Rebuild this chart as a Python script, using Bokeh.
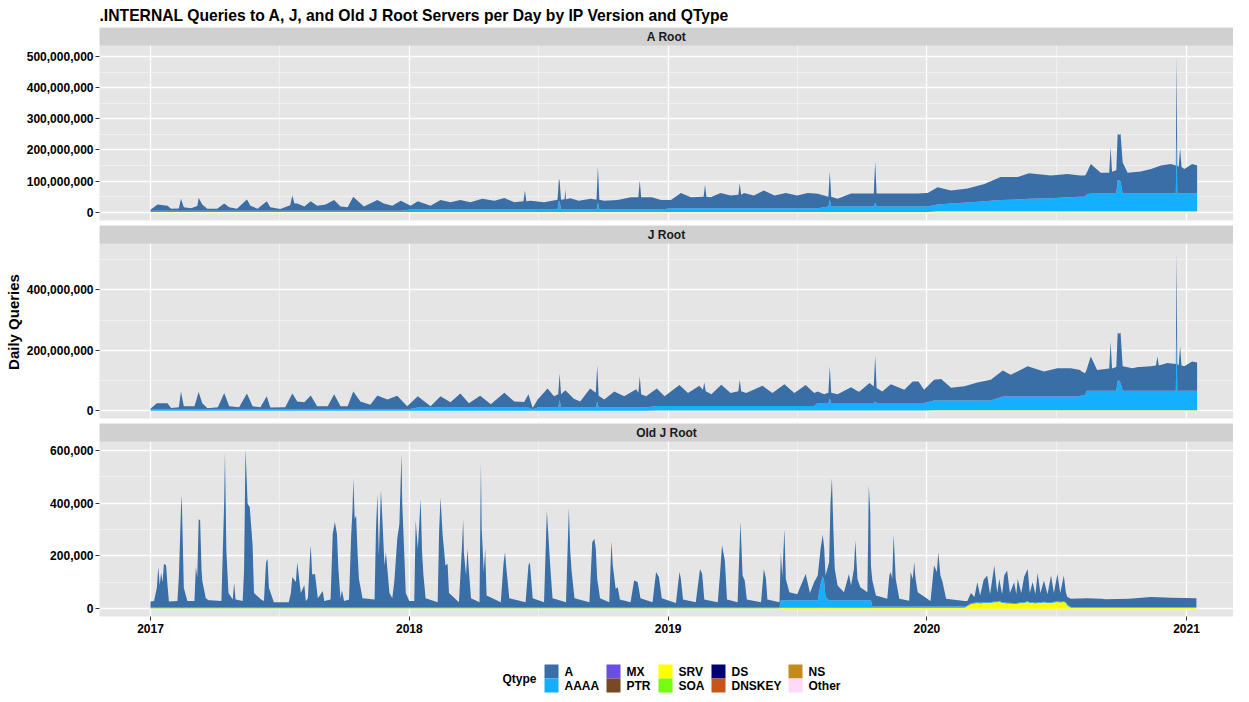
import pandas as pd
from bokeh.plotting import figure
from bokeh.models import (Range1d, FixedTicker, NumeralTickFormatter, DatetimeTickFormatter,
                          BoxAnnotation, Label, ColumnDataSource)
from bokeh.core.properties import value
from bokeh.layouts import column
from bokeh.embed import file_html
from bokeh.resources import INLINE

FONT = "Liberation Sans"
START = "2017-01-01"
nan = float("nan")

TITLE = ".INTERNAL Queries to A, J, and Old J Root Servers per Day by IP Version and QType"
legend_title = "Qtype"
qtypes = ["A", "AAAA", "MX", "PTR", "SRV", "SOA", "DS", "DNSKEY", "NS", "Other"]
qcolors = ["#3A6EA6", "#15AFFF", "#6A4DE3", "#7A4824", "#FFFF00", "#74FF10",
           "#00006E", "#C8561A", "#C38A1C", "#FFD9F7"]
year_ticks = ["2017-01-01", "2018-01-01", "2019-01-01", "2020-01-01", "2021-01-01"]
year_minor = ["2017-07-02", "2018-07-02", "2019-07-02", "2020-07-02"]

# ---------------- A Root (millions of queries / day) ----------------
a_day = [0, 10, 24, 29, 40, 43, 47, 57, 66, 68, 73, 80, 82, 83, 84, 94, 104, 111, 122, 136,
         141, 151, 164, 169, 183, 197, 200, 203, 207, 217, 226, 235, 247, 259, 268, 278, 286, 292, 301, 320,
         329, 341, 353, 367, 377, 395, 409, 423, 437, 451, 468, 485, 499, 513, 526, 528, 530, 536, 555, 574,
         576, 577, 579, 584, 585, 586, 592, 604, 621, 629, 631, 633, 640, 659, 677, 688, 690, 692, 707, 720,
         734, 748, 762, 780, 782, 784, 790, 804, 818, 829, 831, 833, 837, 851, 865, 880, 896, 912, 927, 941,
         956, 958, 960, 969, 988, 998, 999, 1000, 1007, 1020, 1022, 1024, 1035, 1058, 1082, 1096, 1110, 1129, 1152, 1176,
         1199, 1223, 1239, 1270, 1293, 1311, 1312, 1313, 1318, 1319, 1320, 1326, 1340, 1352, 1354, 1356, 1362, 1364, 1366, 1368,
         1371, 1378, 1393, 1394, 1395, 1411, 1425, 1439, 1446, 1447, 1448, 1450, 1452, 1454, 1458, 1469, 1476]
a_A = [3.5, 20.5, 16.5, 6.5, 7.5, 38.5, 11.5, 8.5, 15.5, 41.5, 20.5, 6.5, 6.5, nan, 6.5, 6.5, 23.5, 11.5, 6.5, 36.5,
       16.5, 6.5, 30.5, 11.5, 5.5, 17.5, 49.5, 23.5, 23.5, 13.5, 30.5, 16.5, 20.5, 34.5, 13.5, 11.5, 45.5, 32.5, 13.5, 34.5,
       23.5, 16.5, 32.5, 12.5, 26.5, 12.5, 30.5, 23.5, 30.5, 23.5, 34.5, 28.5, 37.5, 23.5, 26.5, 61.5, 26.5, 28.5, 23.5, 31.5,
       71.5, 64.5, 31.5, 33.5, 64.5, 33.5, 36.5, 28.5, 34.5, 31.5, 116.5, 31.5, 28.5, 30.5, 39.5, 39.5, 93.5, 39.5, 39.5, 30.5,
       26, 49, 35, 37, 75, 37, 35, 49, 41, 43, 80, 43, 49, 41, 57, 41, 49, 41, 49, 46,
       32, 90, 32, 25, 42, 42, nan, 42, 42, 42, 133, 42, 42, 42, 42, 44, 55, 42, 45, 56,
       74, 72, 82, 73, 75, 68, nan, 68, 68, nan, 67, 95, 67, 67, 149, 70, 75, 149, 145, 154,
       100, 67, 70, nan, 70, 79, 90, 95, 90, 266, 90, 85, 146, 85, 79, 95, 90]
a_AAAA = [4, 4, 4, 4, 4, 4, 4, 4, 4, 4, 4, 4, 4, nan, 4, 4, 4, 4, 4, 4,
          4, 4, 4, 4, 4, 4, 4, 4, 4, 4, 4, 4, 4, 4, 4, 4, 4, 4, 4, 4,
          4, 4, 4, 8, 8, 8, 8, 8, 8, 8, 8, 8, 8, 8, 8, 8, 8, 8, 8, 8,
          35, 35, 8, 8, 8, 8, 8, 8, 8, 8, 30, 8, 8, 8, 8, 8, 8, 8, 8, 8,
          12, 12, 12, 12, 12, 12, 12, 12, 12, 12, 12, 12, 12, 12, 12, 12, 12, 12, 12, 12,
          17, 40, 17, 17, 17, 17, nan, 17, 17, 17, 30, 17, 17, 17, 17, 17, 22, 25, 28, 32,
          36, 38, 40, 42, 45, 47, nan, 47, 47, nan, 55, 57, 57, 57, 57, 57, 57, 100, 100, 95,
          57, 57, 57, nan, 57, 57, 57, 57, 57, 240, 57, 57, 57, 57, 57, 57, 57]
a_SRV = [0.5, 0.5, 0.5, 0.5, 0.5, 0.5, 0.5, 0.5, 0.5, 0.5, 0.5, 0.5, 0.5, nan, 0.5, 0.5, 0.5, 0.5, 0.5, 0.5,
         0.5, 0.5, 0.5, 0.5, 0.5, 0.5, 0.5, 0.5, 0.5, 0.5, 0.5, 0.5, 0.5, 0.5, 0.5, 0.5, 0.5, 0.5, 0.5, 0.5,
         0.5, 0.5, 0.5, 0.5, 0.5, 0.5, 0.5, 0.5, 0.5, 0.5, 0.5, 0.5, 0.5, 0.5, 0.5, 0.5, 0.5, 0.5, 0.5, 0.5,
         0.5, 0.5, 0.5, 0.5, 0.5, 0.5, 0.5, 0.5, 0.5, 0.5, 0.5, 0.5, 0.5, 0.5, 0.5, 0.5, 0.5, 0.5, 0.5, 0.5,
         1, 1, 1, 1, 1, 1, 1, 1, 1, 1, 1, 1, 1, 1, 1, 1, 1, 1, 1, 1,
         1, 1, 1, 1, 1, 1, nan, 1, 1, 1, 1, 1, 1, 1, 1, 1, 3, 3, 3, 3,
         3, 3, 3, 3, 3, 3, nan, 3, 3, nan, 3, 3, 3, 3, 3, 3, 3, 3, 3, 3,
         3, 3, 3, nan, 3, 3, 3, 3, 3, 3, 3, 3, 3, 3, 3, 3, 3]

# ---------------- J Root (millions of queries / day) ----------------
j_day = [0, 9, 24, 29, 40, 43, 47, 62, 68, 73, 80, 82, 83, 84, 95, 104, 111, 125, 136, 144,
         155, 164, 169, 190, 200, 207, 217, 226, 235, 250, 259, 268, 278, 286, 296, 310, 320, 334, 348, 362,
         377, 395, 409, 423, 437, 449, 465, 480, 499, 513, 527, 533, 539, 546, 560, 569, 575, 577, 579, 585,
         597, 606, 620, 628, 630, 632, 640, 654, 668, 685, 688, 690, 692, 699, 714, 725, 746, 758, 774, 779,
         781, 783, 791, 805, 818, 829, 831, 833, 840, 863, 877, 894, 908, 924, 936, 941, 950, 956, 958, 960,
         969, 988, 998, 999, 1000, 1014, 1020, 1022, 1024, 1032, 1044, 1063, 1075, 1083, 1091, 1105, 1115, 1129, 1148, 1166,
         1185, 1202, 1213, 1237, 1260, 1279, 1298, 1311, 1312, 1313, 1318, 1319, 1320, 1326, 1335, 1352, 1354, 1356, 1362, 1364,
         1366, 1368, 1371, 1385, 1393, 1394, 1395, 1411, 1418, 1420, 1422, 1434, 1446, 1447, 1448, 1450, 1452, 1454, 1458, 1469,
         1476]
j_A = [2.5, 20.5, 20.5, 4.5, 7.5, 59.5, 10.5, 10.5, 57.5, 20.5, 4.5, 4.5, nan, 4.5, 7.5, 54.5, 10.5, 7.5, 52.5, 10.5,
       7.5, 43.5, 6.5, 7.5, 52.5, 26.5, 23.5, 46.5, 10.5, 10.5, 50.5, 10.5, 10.5, 59.5, 26.5, 15.5, 46.5, 32.5, 45.5, 10.5,
       37.5, 4.5, 37.5, 17.5, 46.5, 14.5, 39.5, 11.5, 49.5, 20.5, 18.5, 44.5, 3.5, 26.5, 63.5, 37.5, 44.5, 87.5, 44.5, 57.5,
       29.5, 20.5, 63.5, 49.5, 119.5, 39.5, 26.5, 53.5, 37.5, 60.5, 49.5, 103.5, 44.5, 37.5, 58, 32, 69, 43, 67, 54,
       78, 49, 39, 70, 43, 49, 87, 49, 43, 67, 43, 72, 43, 69, 43, 38, 29, 34, 106, 34,
       29, 52, 38, nan, 38, 66, 54, 151, 49, 38, 62, 44, 71, 71, 44, 69, 71, 42, 47, 60,
       69, 86, 72, 100, 83, 94, 94, 88, nan, 78, 72, nan, 69, 114, 69, 74, 162, 74, 79, 159,
       156, 166, 81, 75, 79, nan, 79, 81, 84, 114, 84, 92, 89, 268, 89, 84, 147, 84, 81, 97,
       94]
j_AAAA = [4, 4, 4, 4, 4, 4, 4, 4, 4, 4, 4, 4, nan, 4, 4, 4, 4, 4, 4, 4,
          4, 4, 4, 4, 4, 4, 4, 4, 4, 4, 4, 4, 4, 4, 4, 4, 4, 4, 4, 4,
          10, 10, 10, 10, 10, 10, 10, 10, 10, 10, 10, 10, 5, 10, 10, 10, 10, 35, 10, 10,
          10, 10, 10, 10, 30, 10, 10, 10, 10, 10, 10, 10, 10, 10, 15, 15, 15, 15, 15, 15,
          15, 15, 15, 15, 15, 15, 15, 15, 15, 15, 15, 15, 15, 15, 15, 25, 25, 25, 40, 25,
          25, 25, 25, nan, 25, 25, 25, 30, 25, 25, 25, 25, 25, 25, 25, 32, 32, 32, 32, 32,
          32, 45, 45, 45, 45, 45, 45, 45, nan, 50, 50, nan, 64, 64, 64, 64, 64, 64, 64, 97,
          97, 90, 64, 64, 64, nan, 64, 64, 64, 64, 64, 64, 64, 258, 64, 64, 64, 64, 64, 64,
          64]
j_SRV = [0.5, 0.5, 0.5, 0.5, 0.5, 0.5, 0.5, 0.5, 0.5, 0.5, 0.5, 0.5, nan, 0.5, 0.5, 0.5, 0.5, 0.5, 0.5, 0.5,
         0.5, 0.5, 0.5, 0.5, 0.5, 0.5, 0.5, 0.5, 0.5, 0.5, 0.5, 0.5, 0.5, 0.5, 0.5, 0.5, 0.5, 0.5, 0.5, 0.5,
         0.5, 0.5, 0.5, 0.5, 0.5, 0.5, 0.5, 0.5, 0.5, 0.5, 0.5, 0.5, 0.5, 0.5, 0.5, 0.5, 0.5, 0.5, 0.5, 0.5,
         0.5, 0.5, 0.5, 0.5, 0.5, 0.5, 0.5, 0.5, 0.5, 0.5, 0.5, 0.5, 0.5, 0.5, 1, 1, 1, 1, 1, 1,
         1, 1, 1, 1, 1, 1, 1, 1, 1, 1, 1, 1, 1, 1, 1, 1, 1, 1, 1, 1,
         1, 1, 1, nan, 1, 1, 1, 1, 1, 1, 1, 1, 1, 1, 1, 2, 2, 2, 2, 2,
         2, 2, 2, 2, 2, 2, 2, 2, nan, 2, 2, nan, 2, 2, 2, 2, 2, 2, 2, 2,
         2, 2, 2, 2, 2, nan, 2, 2, 2, 2, 2, 2, 2, 2, 2, 2, 2, 2, 2, 2,
         2]

# ---------------- Old J Root (thousands of queries / day) ----------------
oj_day = [0, 5, 9, 11, 13, 15, 17, 19, 22, 24, 26, 38, 40, 43, 44, 46, 47, 52, 62, 64,
          66, 68, 70, 72, 73, 78, 82, 83, 84, 100, 104, 105, 107, 110, 116, 118, 120, 130, 132, 134,
          137, 140, 144, 146, 156, 160, 163, 165, 167, 174, 195, 198, 200, 205, 207, 212, 217, 219, 222, 225,
          226, 228, 232, 236, 243, 245, 254, 257, 260, 263, 265, 268, 270, 273, 280, 283, 285, 286, 288, 290,
          292, 294, 299, 316, 318, 320, 322, 325, 327, 330, 332, 337, 341, 344, 348, 351, 354, 355, 358, 360,
          365, 372, 374, 377, 381, 383, 385, 388, 405, 407, 409, 412, 416, 419, 421, 435, 439, 441, 442, 445,
          447, 449, 452, 464, 466, 467, 470, 472, 474, 494, 498, 500, 502, 506, 529, 533, 535, 539, 555, 559,
          561, 564, 567, 586, 590, 592, 594, 598, 619, 623, 626, 628, 630, 634, 647, 650, 652, 656, 659, 662,
          677, 682, 687, 691, 708, 713, 717, 721, 741, 746, 748, 751, 769, 775, 778, 781, 800, 803, 806, 810,
          813, 828, 832, 835, 838, 841, 861, 865, 868, 870, 887, 889, 891, 894, 896, 901, 912, 924, 930, 936,
          941, 945, 948, 950, 952, 957, 959, 961, 963, 965, 969, 978, 985, 988, 992, 994, 997, 1001, 1011, 1013,
          1015, 1016, 1018, 1023, 1039, 1042, 1044, 1046, 1048, 1051, 1056, 1070, 1072, 1075, 1077, 1079, 1082, 1100, 1105, 1109,
          1111, 1114, 1117, 1122, 1148, 1152, 1157, 1162, 1166, 1170, 1175, 1180, 1184, 1190, 1194, 1197, 1201, 1204, 1208, 1212,
          1218, 1221, 1223, 1228, 1232, 1237, 1240, 1244, 1248, 1251, 1255, 1260, 1265, 1270, 1274, 1279, 1283, 1288, 1291, 1293,
          1298, 1320, 1341, 1342, 1347, 1380, 1411, 1440, 1475]
oj_A = [23, 25, 75, 153, 85, 131, 95, 165, 159, 85, 23, 25, 115, 375, 426, 195, 75, 25, 25, 153,
        115, 335, 329, 145, 102, 35, 27, nan, 27, 25, 405, 587, 216, 55, 30, 93, 30, 25, 145, 600,
        392, 379, 235, 55, 30, 25, 171, 184, 75, 20, 20, 55, 115, 96, 171, 55, 85, 25, 35, 197,
        235, 125, 127, 35, 62, 25, 30, 279, 323, 277, 145, 35, 65, 25, 30, 272, 375, 489, 335, 348,
        209, 108, 35, 30, 295, 430, 195, 445, 335, 159, 209, 55, 35, 102, 260, 316, 581, 398, 197, 55,
        25, 25, 329, 222, 411, 209, 121, 35, 20, 285, 415, 275, 159, 165, 55, 20, 216, 332, 209, 121,
        222, 140, 35, 20, 550, 303, 134, 222, 45, 20, 171, 209, 146, 35, 20, 159, 171, 35, 20, 367,
        275, 146, 35, 20, 376, 209, 134, 35, 20, 247, 260, 222, 108, 35, 20, 250, 159, 71, 77, 30,
        20, 102, 96, 35, 20, 134, 115, 35, 17, 134, 108, 30, 20, 146, 127, 30, 20, 121, 235, 178,
        30, 20, 325, 121, 102, 30, 20, 146, 108, 30, 20, 182, 88, 270, 81, 31, 23, 100, 28, 69,
        94, 133, 156, 129, 82, 144, 371, 462, 270, 119, 56, 31, 100, 56, 119, 226, 81, 50, 31, 434,
        333, 132, 98, 41, 29, 117, 130, 104, 271, 104, 29, 22, 130, 104, 167, 104, 54, 21, 155, 130,
        205, 117, 92, 29, 21, 17, 39, 22, 75, 27, 85, 101, 30, 136, 32, 82, 30, 101, 122, 37,
        79, 34, 90, 35, 95, 122, 35, 76, 32, 110, 35, 80, 30, 101, 33, 103, 33, 97, 35, 30,
        31, 33, 31, nan, 29, 31, 38, 35, 33]
oj_AAAA = [3, 3, 3, 3, 3, 3, 3, 3, 3, 3, 3, 3, 3, 3, 3, 3, 3, 3, 3, 3,
           3, 3, 3, 3, 3, 3, 3, nan, 3, 3, 3, 3, 3, 3, 3, 3, 3, 3, 3, 3,
           3, 3, 3, 3, 3, 3, 3, 3, 3, 3, 3, 3, 3, 3, 3, 3, 3, 3, 3, 3,
           3, 3, 3, 3, 3, 3, 3, 3, 3, 3, 3, 3, 3, 3, 3, 3, 3, 3, 3, 3,
           3, 3, 3, 3, 3, 3, 3, 3, 3, 3, 3, 3, 3, 3, 3, 3, 3, 3, 3, 3,
           3, 3, 3, 3, 3, 3, 3, 3, 3, 3, 3, 3, 3, 3, 3, 3, 3, 3, 3, 3,
           3, 3, 3, 3, 3, 3, 3, 3, 3, 3, 3, 3, 3, 3, 3, 3, 3, 3, 3, 3,
           3, 3, 3, 3, 3, 3, 3, 3, 3, 3, 3, 3, 3, 3, 3, 3, 3, 3, 3, 3,
           3, 3, 3, 3, 3, 3, 3, 3, 3, 3, 3, 3, 3, 3, 3, 3, 3, 3, 3, 3,
           3, 3, 3, 3, 3, 3, 3, 3, 3, 3, 3, 28, 28, 28, 28, 28, 28, 28, 28, 28,
           28, 90, 120, 100, 40, 28, 28, 28, 28, 28, 28, 28, 28, 28, 28, 28, 28, 28, 28, 28,
           28, 28, 5, 5, 5, 5, 5, 5, 5, 5, 5, 5, 5, 5, 5, 5, 5, 5, 5, 5,
           5, 5, 5, 5, 5, 3, 3, 3, 3, 3, 3, 3, 3, 3, 3, 3, 3, 3, 3, 3,
           3, 3, 3, 3, 3, 3, 3, 3, 3, 3, 3, 3, 3, 3, 3, 3, 3, 3, 3, 3,
           3, 3, 3, nan, 3, 3, 3, 3, 3]
oj_SRV = [2, 2, 2, 2, 2, 2, 2, 2, 2, 2, 2, 2, 2, 2, 2, 2, 2, 2, 2, 2,
          2, 2, 2, 2, 2, 2, 2, nan, 2, 2, 2, 2, 2, 2, 2, 2, 2, 2, 2, 2,
          2, 2, 2, 2, 2, 2, 2, 2, 2, 2, 2, 2, 2, 2, 2, 2, 2, 2, 2, 2,
          2, 2, 2, 2, 2, 2, 2, 2, 2, 2, 2, 2, 2, 2, 2, 2, 2, 2, 2, 2,
          2, 2, 2, 2, 2, 2, 2, 2, 2, 2, 2, 2, 2, 2, 2, 2, 2, 2, 2, 2,
          2, 2, 2, 2, 2, 2, 2, 2, 2, 2, 2, 2, 2, 2, 2, 2, 2, 2, 2, 2,
          2, 2, 2, 2, 2, 2, 2, 2, 2, 2, 2, 2, 2, 2, 2, 2, 2, 2, 2, 2,
          2, 2, 2, 2, 2, 2, 2, 2, 2, 2, 2, 2, 2, 2, 2, 2, 2, 2, 2, 2,
          2, 2, 2, 2, 2, 2, 2, 2, 2, 2, 2, 2, 2, 2, 2, 2, 2, 2, 2, 2,
          2, 2, 2, 2, 2, 2, 2, 2, 2, 2, 2, 4, 4, 4, 4, 4, 4, 4, 4, 4,
          4, 4, 4, 4, 4, 4, 4, 4, 4, 4, 4, 4, 4, 4, 4, 4, 4, 4, 4, 4,
          4, 4, 4, 4, 4, 4, 4, 4, 4, 4, 4, 4, 4, 4, 4, 4, 4, 4, 4, 4,
          4, 4, 4, 4, 4, 10, 18, 20, 22, 20, 22, 22, 22, 25, 25, 28, 22, 22, 20, 20,
          18, 18, 20, 22, 22, 26, 22, 22, 20, 22, 22, 24, 22, 22, 24, 26, 24, 26, 22, 12,
          4, 4, 4, nan, 4, 4, 4, 4, 4]

# ---------------- layout constants ----------------
WIDTH, FRAME_W, FRAME_H, PANEL_H, LEFT = 1233, 1134, 193, 175, 99
x_range = Range1d(pd.Timestamp("2017-01-01") - pd.Timedelta(days=71.9),
                  pd.Timestamp("2021-01-01") + pd.Timedelta(days=66.3))


def ms(s):
    return pd.Timestamp(s).value / 1e6


x_ticker = FixedTicker(ticks=[ms(s) for s in year_ticks], minor_ticks=[ms(s) for s in year_minor])
stack_names = ["SRV", "AAAA", "A"]
stack_colors = [qcolors[qtypes.index(n)] for n in stack_names]


def make_panel(name, days, A, AAAA, SRV, unit, y_lo, y_hi, yticks, yminor, top_border, bottom_border,
               show_x=False, ylabel=None, title=None):
    strip = (y_hi - y_lo) * (FRAME_H - PANEL_H) / PANEL_H
    p = figure(frame_width=FRAME_W, frame_height=FRAME_H, x_axis_type="datetime",
               x_range=x_range, y_range=Range1d(y_lo, y_hi + strip),
               output_backend="svg", toolbar_location=None, title=title,
               min_border_left=LEFT, min_border_right=0, min_border_top=top_border,
               min_border_bottom=bottom_border)
    p.background_fill_color = "#E5E5E5"
    p.border_fill_color = "white"
    p.outline_line_color = None
    if title:
        p.title.align = "left"
        p.title.text_font = FONT
        p.title.text_font_size = "15.7px"
        p.title.text_font_style = "bold"
        p.title.text_color = "black"
        p.title.offset = 0
        p.title.standoff = 8

    dates = pd.Timestamp(START) + pd.to_timedelta(days, unit="D")
    src = ColumnDataSource(dict(date=dates,
                                A=[v * unit for v in A],
                                AAAA=[v * unit for v in AAAA],
                                SRV=[v * unit for v in SRV]))
    p.varea_stack(stackers=stack_names, x="date", color=stack_colors, source=src)

    yt = FixedTicker(ticks=yticks, minor_ticks=yminor)
    p.yaxis.ticker = yt
    p.ygrid.ticker = yt
    p.xaxis.ticker = x_ticker
    p.xgrid.ticker = x_ticker
    for g in (p.xgrid[0], p.ygrid[0]):
        g.grid_line_color = "white"
        g.grid_line_width = 1.3
        g.minor_grid_line_color = "#F2F2F2"
        g.minor_grid_line_width = 0.8

    ax = p.yaxis[0]
    ax.formatter = NumeralTickFormatter(format="0,0")
    ax.axis_line_color = None
    ax.major_tick_out = 4
    ax.major_tick_in = 0
    ax.major_tick_line_color = "#333333"
    ax.minor_tick_line_color = None
    ax.major_label_standoff = 2
    ax.major_label_text_font = FONT
    ax.major_label_text_font_size = "12px"
    ax.major_label_text_font_style = "bold"
    ax.major_label_text_color = "black"
    if ylabel:
        ax.axis_label = ylabel
        ax.axis_label_text_font = FONT
        ax.axis_label_text_font_size = "15px"
        ax.axis_label_text_font_style = "bold"
        ax.axis_label_text_color = "black"
        ax.axis_label_standoff = 2

    xa = p.xaxis[0]
    if show_x:
        xa.formatter = DatetimeTickFormatter(years="%Y", months="%Y", days="%Y", hours="%Y")
        xa.axis_line_color = None
        xa.major_tick_out = 4
        xa.major_tick_in = 0
        xa.major_tick_line_color = "#333333"
        xa.minor_tick_line_color = None
        xa.major_label_standoff = 3
        xa.major_label_text_font = FONT
        xa.major_label_text_font_size = "12px"
        xa.major_label_text_font_style = "bold"
        xa.major_label_text_color = "black"
    else:
        xa.visible = False

    # facet strip
    p.add_layout(BoxAnnotation(bottom=y_hi, fill_color="#D0D0D0", fill_alpha=1.0,
                               line_color=None))
    mid = (x_range.start.value / 1e6 + x_range.end.value / 1e6) / 2
    p.add_layout(Label(x=mid, y=y_hi + strip / 2, text=name, text_align="center",
                       text_baseline="middle", text_font=FONT, text_font_size="12px",
                       text_font_style="bold", text_color="#1A1A1A"))
    return p


p1 = make_panel("A Root", a_day, a_A, a_AAAA, a_SRV, 1e6, -26.7e6, 536e6,
                [0, 1e8, 2e8, 3e8, 4e8, 5e8], [5e7, 1.5e8, 2.5e8, 3.5e8, 4.5e8],
                0, 5, title=TITLE)
p2 = make_panel("J Root", j_day, j_A, j_AAAA, j_SRV, 1e6, -25.5e6, 553.5e6,
                [0, 2e8, 4e8], [1e8, 3e8, 5e8], 0, 5, ylabel="Daily Queries")
p3 = make_panel("Old J Root", oj_day, oj_A, oj_AAAA, oj_SRV, 1e3, -29e3, 632.5e3,
                [0, 2e5, 4e5, 6e5], [1e5, 3e5, 5e5], 0, 0, show_x=True)

# ---------------- legend (own small plot, coordinates in pixels from the panel's left edge) ----
LEG_H = 58
col_left = [445, 507, 559, 612, 689]   # swatch left edges per legend column
row_mid = [36, 50]
sw_x, sw_y, lab_x = [], [], []
for i in range(len(qtypes)):
    c, r = divmod(i, 2)
    sw_x.append(col_left[c] + 7)
    sw_y.append(row_mid[r])
    lab_x.append(col_left[c] + 20)

p4 = figure(frame_width=FRAME_W, frame_height=LEG_H, x_range=Range1d(0, FRAME_W),
            y_range=Range1d(LEG_H, 0), output_backend="svg", toolbar_location=None,
            min_border_left=LEFT, min_border_right=0, min_border_top=0, min_border_bottom=0,
            x_axis_location=None, y_axis_location=None)
p4.grid.visible = False
p4.outline_line_color = None
p4.background_fill_color = "white"
leg_src = ColumnDataSource(dict(x=sw_x, y=sw_y, lx=lab_x, color=qcolors, label=qtypes))
p4.rect(x="x", y="y", width=14, height=14, fill_color="color", line_color=None, source=leg_src)
p4.text(x="lx", y="y", text="label", source=leg_src, text_font=value(FONT),
        text_font_size="12px", text_font_style="bold", text_color="black",
        text_baseline="middle", text_align="left")
p4.text(x=[col_left[0] - 8], y=[(row_mid[0] + row_mid[1]) / 2], text=[legend_title],
        text_font=value(FONT), text_font_size="12px", text_font_style="bold",
        text_color="black", text_baseline="middle", text_align="right")

layout = column(p1, p2, p3, p4, spacing=0)
open("out.html", "w").write(file_html(layout, INLINE))
